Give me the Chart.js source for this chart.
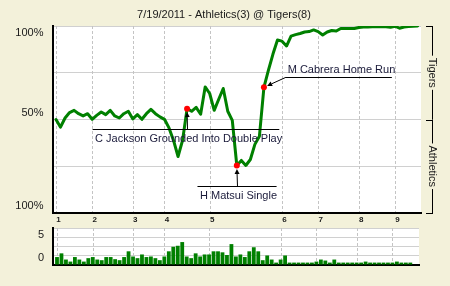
<!DOCTYPE html>
<html><head><meta charset="utf-8">
<script src="https://cdn.jsdelivr.net/npm/chart.js@4/dist/chart.umd.min.js"></script>
<style>
html,body{margin:0;padding:0;background:#f3f1da;}
#wrap{position:relative;width:450px;height:286px;overflow:hidden;background:#f3f1da;}
canvas{position:absolute;left:0;top:0;}
</style></head><body>
<div id="wrap"><canvas id="wp" width="450" height="286"></canvas><canvas id="li" width="450" height="286"></canvas></div>
<script>
// ---- data ----
const chartTitle = '7/19/2011 - Athletics(3) @ Tigers(8)';
const homeTeam = 'Tigers';
const awayTeam = 'Athletics';
// Tigers win probability (%) after each play
const winProb = [50.0,45.9,50.8,53.7,54.9,53.1,51.9,53.1,50.1,52.2,
  54.0,52.6,54.9,51.9,50.8,53.1,54.4,50.3,52.6,50.1,
  53.1,55.4,53.1,51.4,50.1,45.5,38.8,30.2,38.8,55.8,
  54.4,56.5,52.8,67.4,63.9,54.9,60.8,66.6,54.4,49.5,
  25.4,28.1,25.4,28.6,36.7,41.0,67.2,76.4,85.0,92.5,
  91.9,89.3,94.6,95.4,96.0,96.8,97.0,97.9,97.0,95.2,
  96.8,97.6,97.3,98.7,98.7,98.7,98.7,99.2,99.5,99.5,
  99.6,99.6,99.6,99.6,99.3,99.9,98.8,99.5,99.7,99.9,100];
// leverage per play (grid units)
const leverage = [0.86,1.26,0.59,0.37,0.86,0.59,0.37,0.74,0.86,0.59,
  0.52,0.86,0.86,0.63,0.52,0.86,1.48,0.92,0.74,1.14,
  0.86,0.92,0.74,0.52,0.92,1.48,1.97,2.08,2.48,0.92,
  0.74,1.26,0.92,1.14,1.14,1.48,1.48,1.37,1.08,2.26,
  0.92,1.14,0.86,1.48,1.92,1.48,0.52,1.03,0.59,0.26,
  0.59,1.03,0.26,0.26,0.26,0.26,0.26,0.26,0.37,0.59,
  0.48,0.26,0.59,0.26,0.26,0.26,0.26,0.26,0.26,0.37,
  0.26,0.26,0.26,0.26,0.26,0.26,0.37,0.26,0.26,0.26];
const inningStarts = [0,8,17,24,34,50,58,67,75];
const inningLabels = ['1','2','3','4','5','6','7','8','9'];
const wpTickValues = [100,50,0];
const wpTickLabels = ['100%','50%','100%'];
const liTickValues = [3.25,0.75];
const liTickLabels = ['5','0'];
const keyPlays = [29,40,46];
const keyPlayTexts = ['C Jackson Grounded Into Double Play','H Matsui Single','M Cabrera Home Run'];

// ---- layout / style ----
const FONT = '"Liberation Sans", Arial, sans-serif';
const GREEN = '#008000';
const calloutLayout = [
  {from: 8.1, to: 49.4, at: 44.7, below: true},
  {from: 31.3, to: 48.8, at: 14.3, below: true},
  {from: 50.7, to: 74.3, at: 72.5, below: false}
];
const wpLabelShift = [7,-7,-7];

const whiteArea = {
  id:'whiteArea',
  beforeDraw(chart){
    const a = chart.chartArea, c = chart.ctx;
    c.save(); c.fillStyle = '#fff'; c.fillRect(a.left, a.top, a.right-a.left, a.bottom-a.top); c.restore();
  }
};

// dashed inning grid lines, placed through the x scale
const inningGrid = {
  id:'inningGrid',
  beforeDatasetsDraw(chart){
    const a = chart.chartArea, c = chart.ctx, xs = chart.scales.x;
    c.save();
    c.fillStyle = '#c4c4c4';
    inningStarts.forEach(v => {
      const x = Math.round(xs.getPixelForValue(v));
      for (let y = Math.ceil(a.top); y < a.bottom - 1; y += 5) {
        c.fillRect(x, y, 1, Math.min(3, a.bottom - 1 - y));
      }
    });
    c.restore();
  }
};

function arrow(c, sx, sy, dx, dy){
  const len = Math.hypot(dx-sx, dy-sy); const ux = (dx-sx)/len, uy = (dy-sy)/len;
  const tx = dx - ux*3.5, ty = dy - uy*3.5;
  const bx = tx - ux*5, by = ty - uy*5;
  c.beginPath(); c.moveTo(sx, sy); c.lineTo(bx, by); c.stroke();
  c.beginPath(); c.moveTo(tx, ty); c.lineTo(bx - uy*2.5, by + ux*2.5); c.lineTo(bx + uy*2.5, by - ux*2.5); c.closePath(); c.fill();
}

const wpDecor = {
  id:'wpDecor',
  afterDatasetsDraw(chart){
    const c = chart.ctx, xs = chart.scales.x, ys = chart.scales.y;
    c.save();
    c.strokeStyle = '#000'; c.fillStyle = '#000'; c.lineWidth = 1;
    keyPlays.forEach((p, k) => {
      const L = calloutLayout[k];
      const x1 = xs.getPixelForValue(L.from), x2 = xs.getPixelForValue(L.to), ly = Math.round(ys.getPixelForValue(L.at)) + 0.5;
      c.strokeStyle = '#000';
      c.beginPath(); c.moveTo(x1, ly); c.lineTo(x2, ly); c.stroke();
      const dx = xs.getPixelForValue(p), dy = ys.getPixelForValue(winProb[p]);
      const sx = Math.min(Math.max(dx, x1), x2);
      c.fillStyle = '#000';
      arrow(c, Math.round(sx)+0.5, ly, dx, dy);
      c.fillStyle = '#1a1a3a';
      c.font = '11px ' + FONT; c.textAlign = 'left'; c.textBaseline = 'middle';
      c.fillText(keyPlayTexts[k], x1 + 2.5, L.below ? ly + 9.5 : ly - 7.5);
    });
    c.restore();
  },
  afterDraw(chart){
    const c = chart.ctx, xs = chart.scales.x, ys = chart.scales.y;
    c.save();
    c.fillStyle = '#1a1a1a';
    c.font = '11px ' + FONT; c.textAlign = 'center'; c.textBaseline = 'middle';
    c.fillText(chartTitle, 224, 15);
    c.textAlign = 'right';
    wpTickValues.forEach((v, i) => c.fillText(wpTickLabels[i], 43.5, ys.getPixelForValue(v) + wpLabelShift[i]));
    c.font = 'bold 8px ' + FONT; c.textAlign = 'center';
    inningStarts.forEach((v, i) => c.fillText(inningLabels[i], xs.getPixelForValue(v) + 2.5, 220));
    // team brackets
    const bx = 432.5, top = ys.getPixelForValue(100), mid = ys.getPixelForValue(50), bot = ys.getPixelForValue(0);
    c.strokeStyle = '#000'; c.lineWidth = 1;
    c.beginPath();
    [top, mid, bot].forEach(y => { const yy = Math.round(y) + 0.5; c.moveTo(426, yy); c.lineTo(bx + 0.5, yy); });
    c.stroke();
    c.font = '11px ' + FONT;
    [[homeTeam, 75, top, mid], [awayTeam, 25, mid, bot]].forEach(([t, v, y1, y2]) => {
      const cy = ys.getPixelForValue(v); const half = c.measureText(t).width/2 + 2;
      c.beginPath(); c.moveTo(bx, y1); c.lineTo(bx, cy - half); c.moveTo(bx, cy + half); c.lineTo(bx, y2); c.stroke();
      c.save(); c.translate(bx, cy); c.rotate(Math.PI/2); c.textAlign = 'center'; c.fillText(t, 0, 0); c.restore();
    });
    c.restore();
  }
};

const liDecor = {
  id:'liDecor',
  afterDraw(chart){
    const c = chart.ctx, ys = chart.scales.y;
    c.save(); c.fillStyle = '#1a1a1a'; c.font = '11px ' + FONT; c.textAlign = 'right'; c.textBaseline = 'middle';
    liTickValues.forEach((v, i) => c.fillText(liTickLabels[i], 44, ys.getPixelForValue(v)));
    c.restore();
  }
};

const xOpts = (min, max) => ({type:'linear', offset:false, min, max,
  ticks:{display:false}, grid:{display:false, drawTicks:false},
  border:{display:true, color:'#000', width:2}});
const yGrid = {color:'#d0d0d0', lineWidth:1, drawTicks:false};

new Chart(document.getElementById('wp'), {
  type:'line',
  data:{datasets:[{
    data: winProb.map((v, i) => ({x: i, y: v})),
    borderColor: GREEN, borderWidth: 3, tension: 0, fill: false,
    borderJoinStyle:'round', borderCapStyle:'round',
    pointRadius: ctx => keyPlays.includes(ctx.dataIndex) ? 3 : 0,
    pointBackgroundColor:'#ff0000', pointBorderWidth:0, pointHoverRadius:0
  }]},
  options:{
    responsive:false, animation:false, devicePixelRatio:1, events:[],
    layout:{padding:{left:53, top:26, right:29, bottom:73}},
    plugins:{legend:{display:false}, tooltip:{enabled:false}},
    scales:{
      x: xOpts(-0.664, 80.75),
      y:{min:0, max:100, ticks:{display:false, stepSize:25}, grid: yGrid, border:{display:true, color:'#000', width:2}}
    }
  },
  plugins:[whiteArea, inningGrid, wpDecor]
});

new Chart(document.getElementById('li'), {
  type:'bar',
  data:{datasets:[{
    data: leverage.map((v, i) => ({x: i, y: v})),
    backgroundColor: GREEN, borderWidth:0, barPercentage:0.85, categoryPercentage:1
  }]},
  options:{
    responsive:false, animation:false, devicePixelRatio:1, events:[],
    layout:{padding:{left:53, top:228, right:31, bottom:21}},
    plugins:{legend:{display:false}, tooltip:{enabled:false}},
    scales:{
      x: xOpts(-0.894, 80.94),
      y:{min:0, max:4, ticks:{display:false, stepSize:1}, grid: yGrid, border:{display:true, color:'#000', width:2}}
    }
  },
  plugins:[whiteArea, inningGrid, liDecor]
});
</script>
</body></html>
